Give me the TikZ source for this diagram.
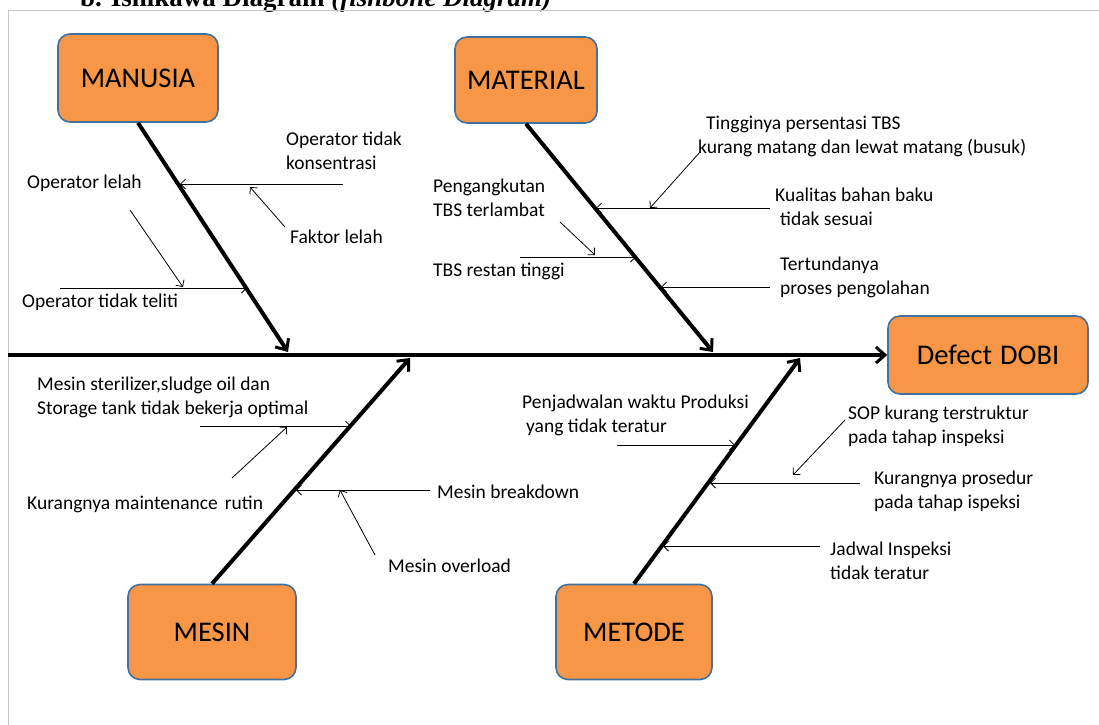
\documentclass[tikz,border=0pt]{standalone}
\usepackage{fontspec}
\setmainfont{Carlito}
\newfontfamily\titlefont{Liberation Serif}
\usetikzlibrary{arrows.meta}
\definecolor{boxfill}{HTML}{F79646}
\definecolor{boxline}{HTML}{41719C}
\tikzset{
  causebox/.style={draw=boxline, fill=boxfill, line width=1.6pt, rounded corners=12pt,
    inner sep=0pt, font=\fontsize{28.5}{32}\selectfont},
  bone/.style={line width=4pt, -{Straight Barb[length=9pt,width=16pt,line width=3pt]}},
  twig/.style={line width=0.8pt, -{Straight Barb[length=5pt,width=10pt]}},
  lbl/.style={anchor=north west, inner sep=0pt, align=left, font=\fontsize{19.5}{23.5}\selectfont}
}
\begin{document}
\begin{tikzpicture}[x=1pt,y=-1pt]
\useasboundingbox (0,0) rectangle (1099,724);
\node[anchor=base west, inner sep=0pt, font=\titlefont\bfseries\fontsize{27}{30}\selectfont] (title) at (80,6) {b. Ishikawa Diagram \textit{(fishbone Diagram)}};
\draw[gray!45, line width=1pt] (1110,10) -- (8,10) -- (8,740);

\node[causebox, minimum width=160pt, minimum height=88pt] (manusia) at (138,78) {MANUSIA};
\node[causebox, minimum width=142pt, minimum height=86pt] (material) at (526,80) {MATERIAL};
\node[causebox, minimum width=200pt, minimum height=78pt] (dobi) at (988,355) {Defect\hspace{8pt}DOBI};
\node[causebox, minimum width=168pt, minimum height=95pt] (mesin) at (212,632) {MESIN};
\node[causebox, minimum width=156pt, minimum height=95pt] (metode) at (634,632) {METODE};

\coordinate (tail) at (8,355);
\coordinate (mantip) at (288,352);
\coordinate (mattip) at (713,352);
\coordinate (mestip) at (410,358);
\coordinate (mettip) at (800,358);
\draw[bone] (tail) -- (dobi.west);
\draw[bone] (manusia.south) -- (mantip);
\draw[bone] (material.south) -- (mattip);
\draw[bone] (mesin.north) -- (mestip);
\draw[bone] (metode.north) -- (mettip);

\node[lbl] (konsen) at (286,132) {Operator tidak\\konsentrasi};
\node[lbl] (lelah) at (27,175) {Operator lelah};
\node[lbl] (faktor) at (290,230) {Faktor lelah};
\node[lbl] (teliti) at (22,294) {Operator tidak teliti};
\coordinate (mk1) at (343,184); \coordinate (mk2) at (180,184);
\coordinate (mf1) at (285,227); \coordinate (mf2) at (250,187);
\coordinate (ml1) at (130,210); \coordinate (ml2) at (183,287);
\coordinate (mt1) at (60,288);  \coordinate (mt2) at (247,288);
\draw[twig] (mk1) -- (mk2);
\draw[twig] (mf1) -- (mf2);
\draw[twig] (ml1) -- (ml2);
\draw[twig] (mt1) -- (mt2);

\node[lbl] (tinggi) at (698,116) {\hspace*{8pt}Tingginya persentasi TBS\\kurang matang dan lewat matang (busuk)};
\node[lbl] (kualitas) at (775,188) {Kualitas bahan baku\\\hspace*{5pt}tidak sesuai};
\node[lbl] (angkut) at (433,179) {Pengangkutan\\TBS terlambat};
\node[lbl] (restan) at (433,263) {TBS restan tinggi};
\node[lbl] (tunda) at (780,257) {Tertundanya\\proses pengolahan};
\coordinate (at1) at (700,152); \coordinate (at2) at (650,208);
\coordinate (ak1) at (770,208); \coordinate (ak2) at (596,208);
\coordinate (aa1) at (560,222); \coordinate (aa2) at (595,255);
\coordinate (ar1) at (520,257); \coordinate (ar2) at (636,257);
\coordinate (ad1) at (770,287); \coordinate (ad2) at (661,287);
\draw[twig] (at1) -- (at2);
\draw[twig] (ak1) -- (ak2);
\draw[twig] (aa1) -- (aa2);
\draw[twig] (ar1) -- (ar2);
\draw[twig] (ad1) -- (ad2);

\node[lbl] (steril) at (37,377) {Mesin sterilizer,sludge oil dan\\Storage tank tidak bekerja optimal};
\node[lbl] (maint) at (27,496) {Kurangnya maintenance\hspace{7pt}rutin};
\node[lbl] (breakdown) at (437,485) {Mesin breakdown};
\node[lbl] (overload) at (388,559) {Mesin overload};
\coordinate (ms1) at (200,426); \coordinate (ms2) at (351,426);
\coordinate (mm1) at (232,478); \coordinate (mm2) at (287,427);
\coordinate (mb1) at (430,490); \coordinate (mb2) at (296,490);
\coordinate (mo1) at (375,555); \coordinate (mo2) at (340,490);
\draw[twig] (ms1) -- (ms2);
\draw[twig] (mm1) -- (mm2);
\draw[twig] (mb1) -- (mb2);
\draw[twig] (mo1) -- (mo2);

\node[lbl] (jadwalprod) at (522,395) {Penjadwalan waktu Produksi\\\hspace*{4pt}yang tidak teratur};
\node[lbl] (sop) at (848,406) {SOP kurang terstruktur\\pada tahap inspeksi};
\node[lbl] (prosedur) at (874,471) {Kurangnya prosedur\\pada tahap ispeksi};
\node[lbl] (jadwalins) at (830,542) {Jadwal Inspeksi\\tidak teratur};
\coordinate (tp1) at (617,445); \coordinate (tp2) at (735,445);
\coordinate (ts1) at (845,420); \coordinate (ts2) at (793,475);
\coordinate (tk1) at (860,483); \coordinate (tk2) at (710,483);
\coordinate (ti1) at (820,546); \coordinate (ti2) at (663,546);
\draw[twig] (tp1) -- (tp2);
\draw[twig] (ts1) -- (ts2);
\draw[twig] (tk1) -- (tk2);
\draw[twig] (ti1) -- (ti2);
\end{tikzpicture}
\end{document}
